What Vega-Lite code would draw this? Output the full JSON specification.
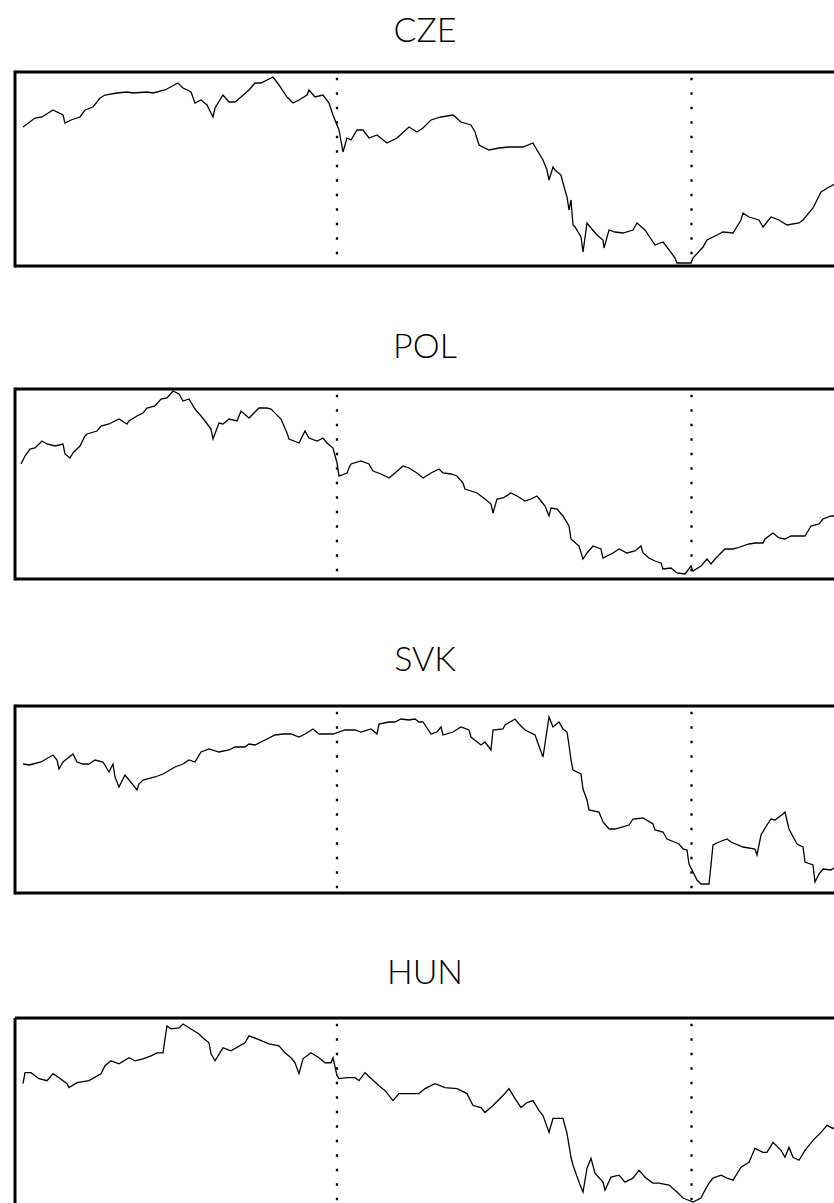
{
  "$schema": "https://vega.github.io/schema/vega-lite/v6.json",
  "padding": {"left": 12, "top": 14, "right": 0, "bottom": 0},
  "spacing": 61,
  "resolve": {"scale": {"x": "independent", "y": "independent"}},
  "config": {
    "view": {"stroke": null},
    "title": {"font": "Lato", "fontSize": 34, "fontWeight": 300, "color": "black", "anchor": "middle"}
  },
  "datasets": {
    "years": [{"t": 322}, {"t": 676.5}],
    "CZE": [{"t":8,"v":139},{"t":20,"v":148},{"t":27,"v":149},{"t":38,"v":156},{"t":48,"v":151},{"t":50,"v":143},{"t":56,"v":146},{"t":65,"v":149},{"t":70,"v":156},{"t":78,"v":159},{"t":85,"v":168},{"t":90,"v":171},{"t":102,"v":173},{"t":112,"v":174},{"t":118,"v":173},{"t":132,"v":174},{"t":138,"v":173},{"t":150,"v":176},{"t":163,"v":183},{"t":168,"v":178},{"t":176,"v":174},{"t":180,"v":163},{"t":186,"v":166},{"t":192,"v":161},{"t":198,"v":149},{"t":200,"v":158},{"t":208,"v":171},{"t":214,"v":164},{"t":220,"v":164},{"t":226,"v":169},{"t":234,"v":176},{"t":240,"v":183},{"t":246,"v":183},{"t":258,"v":189},{"t":264,"v":181},{"t":272,"v":169},{"t":278,"v":163},{"t":284,"v":166},{"t":292,"v":171},{"t":294,"v":176},{"t":300,"v":169},{"t":308,"v":171},{"t":314,"v":163},{"t":318,"v":151},{"t":324,"v":136},{"t":328,"v":114},{"t":332,"v":128},{"t":336,"v":126},{"t":342,"v":136},{"t":348,"v":136},{"t":354,"v":128},{"t":362,"v":131},{"t":372,"v":123},{"t":382,"v":128},{"t":394,"v":139},{"t":402,"v":134},{"t":408,"v":138},{"t":416,"v":146},{"t":426,"v":149},{"t":438,"v":151},{"t":446,"v":144},{"t":456,"v":141},{"t":460,"v":134},{"t":464,"v":121},{"t":474,"v":116},{"t":484,"v":118},{"t":494,"v":119},{"t":508,"v":119},{"t":518,"v":123},{"t":522,"v":116},{"t":528,"v":106},{"t":532,"v":96},{"t":534,"v":86},{"t":538,"v":99},{"t":540,"v":96},{"t":546,"v":91},{"t":548,"v":83},{"t":552,"v":69},{"t":554,"v":56},{"t":556,"v":66},{"t":558,"v":41},{"t":560,"v":39},{"t":566,"v":29},{"t":568,"v":14},{"t":572,"v":43},{"t":576,"v":38},{"t":582,"v":31},{"t":588,"v":26},{"t":589,"v":18},{"t":594,"v":36},{"t":600,"v":34},{"t":608,"v":33},{"t":618,"v":36},{"t":622,"v":43},{"t":630,"v":36},{"t":640,"v":21},{"t":648,"v":24},{"t":652,"v":19},{"t":660,"v":8},{"t":662,"v":3},{"t":670,"v":3},{"t":676,"v":3},{"t":678,"v":8},{"t":688,"v":19},{"t":692,"v":26},{"t":702,"v":31},{"t":708,"v":34},{"t":718,"v":33},{"t":726,"v":46},{"t":728,"v":53},{"t":734,"v":49},{"t":744,"v":46},{"t":748,"v":39},{"t":756,"v":49},{"t":764,"v":46},{"t":772,"v":41},{"t":784,"v":43},{"t":788,"v":46},{"t":798,"v":58},{"t":802,"v":66},{"t":806,"v":74},{"t":814,"v":79},{"t":820,"v":82}],
    "POL": [{"t":6,"v":115},{"t":10,"v":123},{"t":15,"v":130},{"t":20,"v":131},{"t":27,"v":138},{"t":32,"v":135},{"t":40,"v":133},{"t":48,"v":135},{"t":50,"v":125},{"t":55,"v":121},{"t":58,"v":126},{"t":65,"v":133},{"t":70,"v":143},{"t":72,"v":145},{"t":82,"v":148},{"t":86,"v":153},{"t":94,"v":155},{"t":104,"v":160},{"t":112,"v":155},{"t":114,"v":158},{"t":122,"v":163},{"t":128,"v":166},{"t":132,"v":171},{"t":140,"v":173},{"t":146,"v":180},{"t":152,"v":181},{"t":158,"v":188},{"t":164,"v":185},{"t":168,"v":178},{"t":174,"v":180},{"t":180,"v":170},{"t":186,"v":163},{"t":190,"v":158},{"t":196,"v":150},{"t":198,"v":140},{"t":204,"v":156},{"t":208,"v":155},{"t":214,"v":160},{"t":222,"v":158},{"t":226,"v":168},{"t":234,"v":161},{"t":244,"v":171},{"t":252,"v":171},{"t":256,"v":170},{"t":266,"v":160},{"t":272,"v":146},{"t":274,"v":140},{"t":284,"v":136},{"t":290,"v":148},{"t":294,"v":141},{"t":302,"v":138},{"t":308,"v":141},{"t":312,"v":136},{"t":318,"v":131},{"t":322,"v":116},{"t":324,"v":103},{"t":332,"v":106},{"t":334,"v":111},{"t":336,"v":115},{"t":346,"v":118},{"t":354,"v":115},{"t":358,"v":108},{"t":366,"v":105},{"t":374,"v":101},{"t":380,"v":106},{"t":388,"v":113},{"t":394,"v":111},{"t":402,"v":106},{"t":408,"v":101},{"t":416,"v":106},{"t":424,"v":110},{"t":428,"v":106},{"t":436,"v":105},{"t":442,"v":103},{"t":448,"v":96},{"t":450,"v":90},{"t":462,"v":86},{"t":470,"v":80},{"t":476,"v":75},{"t":478,"v":66},{"t":482,"v":80},{"t":488,"v":81},{"t":496,"v":86},{"t":502,"v":83},{"t":510,"v":78},{"t":516,"v":80},{"t":522,"v":83},{"t":526,"v":78},{"t":530,"v":73},{"t":534,"v":63},{"t":536,"v":71},{"t":542,"v":70},{"t":548,"v":63},{"t":554,"v":53},{"t":556,"v":40},{"t":564,"v":33},{"t":568,"v":20},{"t":572,"v":26},{"t":578,"v":33},{"t":586,"v":30},{"t":588,"v":21},{"t":598,"v":26},{"t":604,"v":30},{"t":612,"v":26},{"t":620,"v":28},{"t":626,"v":33},{"t":628,"v":26},{"t":634,"v":21},{"t":640,"v":18},{"t":646,"v":16},{"t":648,"v":10},{"t":656,"v":11},{"t":662,"v":6},{"t":670,"v":5},{"t":676,"v":13},{"t":678,"v":8},{"t":686,"v":13},{"t":692,"v":20},{"t":696,"v":15},{"t":700,"v":20},{"t":710,"v":30},{"t":718,"v":30},{"t":722,"v":31},{"t":734,"v":35},{"t":740,"v":36},{"t":748,"v":36},{"t":750,"v":40},{"t":758,"v":46},{"t":764,"v":41},{"t":770,"v":40},{"t":776,"v":43},{"t":790,"v":43},{"t":796,"v":53},{"t":804,"v":55},{"t":808,"v":60},{"t":816,"v":63},{"t":820,"v":63}],
    "SVK": [{"t":8,"v":129},{"t":14,"v":128},{"t":18,"v":129},{"t":26,"v":131},{"t":38,"v":138},{"t":42,"v":133},{"t":44,"v":124},{"t":48,"v":131},{"t":58,"v":139},{"t":62,"v":131},{"t":68,"v":129},{"t":74,"v":129},{"t":80,"v":133},{"t":88,"v":131},{"t":94,"v":121},{"t":98,"v":129},{"t":100,"v":116},{"t":104,"v":106},{"t":110,"v":118},{"t":114,"v":113},{"t":122,"v":103},{"t":124,"v":109},{"t":128,"v":113},{"t":140,"v":116},{"t":148,"v":119},{"t":160,"v":126},{"t":168,"v":129},{"t":174,"v":133},{"t":180,"v":131},{"t":186,"v":141},{"t":194,"v":144},{"t":204,"v":141},{"t":214,"v":143},{"t":220,"v":146},{"t":230,"v":146},{"t":234,"v":149},{"t":240,"v":148},{"t":250,"v":153},{"t":260,"v":158},{"t":268,"v":159},{"t":276,"v":159},{"t":284,"v":156},{"t":290,"v":159},{"t":298,"v":164},{"t":304,"v":159},{"t":318,"v":159},{"t":330,"v":163},{"t":340,"v":163},{"t":346,"v":161},{"t":356,"v":164},{"t":362,"v":159},{"t":364,"v":169},{"t":374,"v":171},{"t":380,"v":171},{"t":386,"v":174},{"t":394,"v":173},{"t":400,"v":174},{"t":404,"v":171},{"t":408,"v":171},{"t":416,"v":159},{"t":422,"v":161},{"t":426,"v":166},{"t":428,"v":158},{"t":438,"v":161},{"t":446,"v":166},{"t":454,"v":163},{"t":456,"v":156},{"t":466,"v":148},{"t":470,"v":151},{"t":476,"v":143},{"t":478,"v":163},{"t":488,"v":164},{"t":490,"v":168},{"t":500,"v":174},{"t":504,"v":169},{"t":510,"v":163},{"t":520,"v":158},{"t":528,"v":136},{"t":534,"v":176},{"t":538,"v":166},{"t":544,"v":171},{"t":548,"v":164},{"t":552,"v":161},{"t":554,"v":148},{"t":556,"v":133},{"t":558,"v":123},{"t":566,"v":119},{"t":568,"v":104},{"t":572,"v":93},{"t":574,"v":83},{"t":584,"v":81},{"t":588,"v":71},{"t":594,"v":64},{"t":600,"v":64},{"t":614,"v":68},{"t":618,"v":74},{"t":628,"v":75},{"t":638,"v":69},{"t":640,"v":63},{"t":648,"v":61},{"t":652,"v":54},{"t":664,"v":49},{"t":668,"v":44},{"t":672,"v":43},{"t":674,"v":29},{"t":678,"v":21},{"t":682,"v":13},{"t":686,"v":9},{"t":694,"v":9},{"t":696,"v":28},{"t":698,"v":48},{"t":704,"v":51},{"t":712,"v":54},{"t":716,"v":51},{"t":728,"v":46},{"t":740,"v":44},{"t":742,"v":38},{"t":746,"v":58},{"t":752,"v":68},{"t":756,"v":74},{"t":760,"v":73},{"t":768,"v":79},{"t":770,"v":81},{"t":774,"v":64},{"t":782,"v":49},{"t":788,"v":46},{"t":790,"v":31},{"t":798,"v":28},{"t":800,"v":11},{"t":804,"v":19},{"t":808,"v":24},{"t":816,"v":23},{"t":820,"v":26}],
    "HUN": [{"t":8,"v":122},{"t":10,"v":133},{"t":16,"v":133},{"t":24,"v":127},{"t":32,"v":125},{"t":38,"v":132},{"t":44,"v":128},{"t":52,"v":122},{"t":54,"v":118},{"t":62,"v":123},{"t":74,"v":125},{"t":86,"v":132},{"t":90,"v":140},{"t":96,"v":145},{"t":104,"v":142},{"t":114,"v":148},{"t":120,"v":145},{"t":128,"v":147},{"t":136,"v":150},{"t":142,"v":153},{"t":148,"v":153},{"t":150,"v":167},{"t":152,"v":180},{"t":156,"v":177},{"t":164,"v":178},{"t":168,"v":182},{"t":176,"v":177},{"t":184,"v":172},{"t":188,"v":168},{"t":194,"v":163},{"t":196,"v":152},{"t":200,"v":145},{"t":208,"v":158},{"t":216,"v":155},{"t":230,"v":163},{"t":234,"v":170},{"t":242,"v":167},{"t":254,"v":162},{"t":264,"v":160},{"t":270,"v":153},{"t":276,"v":148},{"t":280,"v":143},{"t":284,"v":132},{"t":288,"v":147},{"t":296,"v":153},{"t":304,"v":148},{"t":310,"v":143},{"t":316,"v":143},{"t":318,"v":148},{"t":322,"v":130},{"t":324,"v":127},{"t":332,"v":128},{"t":340,"v":128},{"t":344,"v":125},{"t":350,"v":133},{"t":364,"v":120},{"t":370,"v":115},{"t":378,"v":105},{"t":384,"v":112},{"t":400,"v":112},{"t":404,"v":112},{"t":410,"v":117},{"t":420,"v":122},{"t":430,"v":118},{"t":442,"v":117},{"t":452,"v":112},{"t":458,"v":100},{"t":466,"v":98},{"t":470,"v":93},{"t":478,"v":100},{"t":488,"v":110},{"t":494,"v":117},{"t":500,"v":107},{"t":506,"v":98},{"t":512,"v":103},{"t":518,"v":105},{"t":524,"v":95},{"t":528,"v":90},{"t":534,"v":73},{"t":538,"v":87},{"t":548,"v":87},{"t":552,"v":72},{"t":556,"v":48},{"t":558,"v":40},{"t":564,"v":23},{"t":568,"v":13},{"t":572,"v":37},{"t":576,"v":47},{"t":580,"v":32},{"t":588,"v":23},{"t":590,"v":15},{"t":596,"v":28},{"t":604,"v":30},{"t":610,"v":23},{"t":618,"v":27},{"t":624,"v":35},{"t":630,"v":28},{"t":638,"v":22},{"t":644,"v":22},{"t":654,"v":20},{"t":662,"v":13},{"t":668,"v":7},{"t":678,"v":3},{"t":686,"v":7},{"t":690,"v":15},{"t":694,"v":22},{"t":698,"v":27},{"t":706,"v":30},{"t":712,"v":27},{"t":718,"v":25},{"t":726,"v":38},{"t":734,"v":43},{"t":740,"v":57},{"t":748,"v":53},{"t":752,"v":53},{"t":758,"v":63},{"t":766,"v":55},{"t":770,"v":48},{"t":774,"v":58},{"t":778,"v":48},{"t":784,"v":45},{"t":790,"v":55},{"t":798,"v":65},{"t":806,"v":73},{"t":812,"v":80},{"t":818,"v":77},{"t":820,"v":78}]
  },
  "vconcat": [
    {
      "title": {"text": "CZE", "offset": 21},
      "width": 820, "height": 194,
      "layer": [
        {"data": {"name": "CZE"}, "mark": {"type": "line", "color": "black", "strokeWidth": 1.3},
         "encoding": {"x": {"field": "t", "type": "quantitative", "scale": {"domain": [0, 820], "nice": false, "zero": false}, "axis": null},
                      "y": {"field": "v", "type": "quantitative", "scale": {"domain": [0, 194], "nice": false}, "axis": null}}},
        {"data": {"name": "years"}, "mark": {"type": "rule", "color": "black", "strokeWidth": 2.3, "strokeDash": [2.5, 12], "strokeDashOffset": 8.8},
         "encoding": {"x": {"field": "t", "type": "quantitative"}}},
        {"data": {"values": [{}]}, "mark": {"type": "rule", "color": "black", "strokeWidth": 3, "strokeCap": "square"},
         "encoding": {"x": {"datum": 0, "type": "quantitative"}}},
        {"data": {"values": [{}]}, "mark": {"type": "rule", "color": "black", "strokeWidth": 3},
         "encoding": {"y": {"datum": 194, "type": "quantitative"}}},
        {"data": {"values": [{}]}, "mark": {"type": "rule", "color": "black", "strokeWidth": 3},
         "encoding": {"y": {"datum": 0, "type": "quantitative"}}}
      ]
    },
    {
      "title": {"text": "POL", "offset": 22},
      "width": 820, "height": 190,
      "layer": [
        {"data": {"name": "POL"}, "mark": {"type": "line", "color": "black", "strokeWidth": 1.3},
         "encoding": {"x": {"field": "t", "type": "quantitative", "scale": {"domain": [0, 820], "nice": false, "zero": false}, "axis": null},
                      "y": {"field": "v", "type": "quantitative", "scale": {"domain": [0, 190], "nice": false}, "axis": null}}},
        {"data": {"name": "years"}, "mark": {"type": "rule", "color": "black", "strokeWidth": 2.3, "strokeDash": [2.5, 12], "strokeDashOffset": 8.8},
         "encoding": {"x": {"field": "t", "type": "quantitative"}}},
        {"data": {"values": [{}]}, "mark": {"type": "rule", "color": "black", "strokeWidth": 3, "strokeCap": "square"},
         "encoding": {"x": {"datum": 0, "type": "quantitative"}}},
        {"data": {"values": [{}]}, "mark": {"type": "rule", "color": "black", "strokeWidth": 3},
         "encoding": {"y": {"datum": 190, "type": "quantitative"}}},
        {"data": {"values": [{}]}, "mark": {"type": "rule", "color": "black", "strokeWidth": 3},
         "encoding": {"y": {"datum": 0, "type": "quantitative"}}}
      ]
    },
    {
      "title": {"text": "SVK", "offset": 26},
      "width": 820, "height": 187,
      "layer": [
        {"data": {"name": "SVK"}, "mark": {"type": "line", "color": "black", "strokeWidth": 1.3},
         "encoding": {"x": {"field": "t", "type": "quantitative", "scale": {"domain": [0, 820], "nice": false, "zero": false}, "axis": null},
                      "y": {"field": "v", "type": "quantitative", "scale": {"domain": [0, 187], "nice": false}, "axis": null}}},
        {"data": {"name": "years"}, "mark": {"type": "rule", "color": "black", "strokeWidth": 2.3, "strokeDash": [2.5, 12], "strokeDashOffset": 8.8},
         "encoding": {"x": {"field": "t", "type": "quantitative"}}},
        {"data": {"values": [{}]}, "mark": {"type": "rule", "color": "black", "strokeWidth": 3, "strokeCap": "square"},
         "encoding": {"x": {"datum": 0, "type": "quantitative"}}},
        {"data": {"values": [{}]}, "mark": {"type": "rule", "color": "black", "strokeWidth": 3},
         "encoding": {"y": {"datum": 187, "type": "quantitative"}}},
        {"data": {"values": [{}]}, "mark": {"type": "rule", "color": "black", "strokeWidth": 3},
         "encoding": {"y": {"datum": 0, "type": "quantitative"}}}
      ]
    },
    {
      "title": {"text": "HUN", "offset": 25.5},
      "width": 820, "height": 187,
      "layer": [
        {"data": {"name": "HUN"}, "mark": {"type": "line", "color": "black", "strokeWidth": 1.3},
         "encoding": {"x": {"field": "t", "type": "quantitative", "scale": {"domain": [0, 820], "nice": false, "zero": false}, "axis": null},
                      "y": {"field": "v", "type": "quantitative", "scale": {"domain": [0, 188], "nice": false}, "axis": null}}},
        {"data": {"name": "years"}, "mark": {"type": "rule", "color": "black", "strokeWidth": 2.3, "strokeDash": [2.5, 12], "strokeDashOffset": 8.8},
         "encoding": {"x": {"field": "t", "type": "quantitative"}}},
        {"data": {"values": [{}]}, "mark": {"type": "rule", "color": "black", "strokeWidth": 3},
         "encoding": {"x": {"datum": 0, "type": "quantitative"}}},
        {"data": {"values": [{}]}, "mark": {"type": "rule", "color": "black", "strokeWidth": 3},
         "encoding": {"y": {"datum": 188, "type": "quantitative"}}}
      ]
    }
  ]
}
